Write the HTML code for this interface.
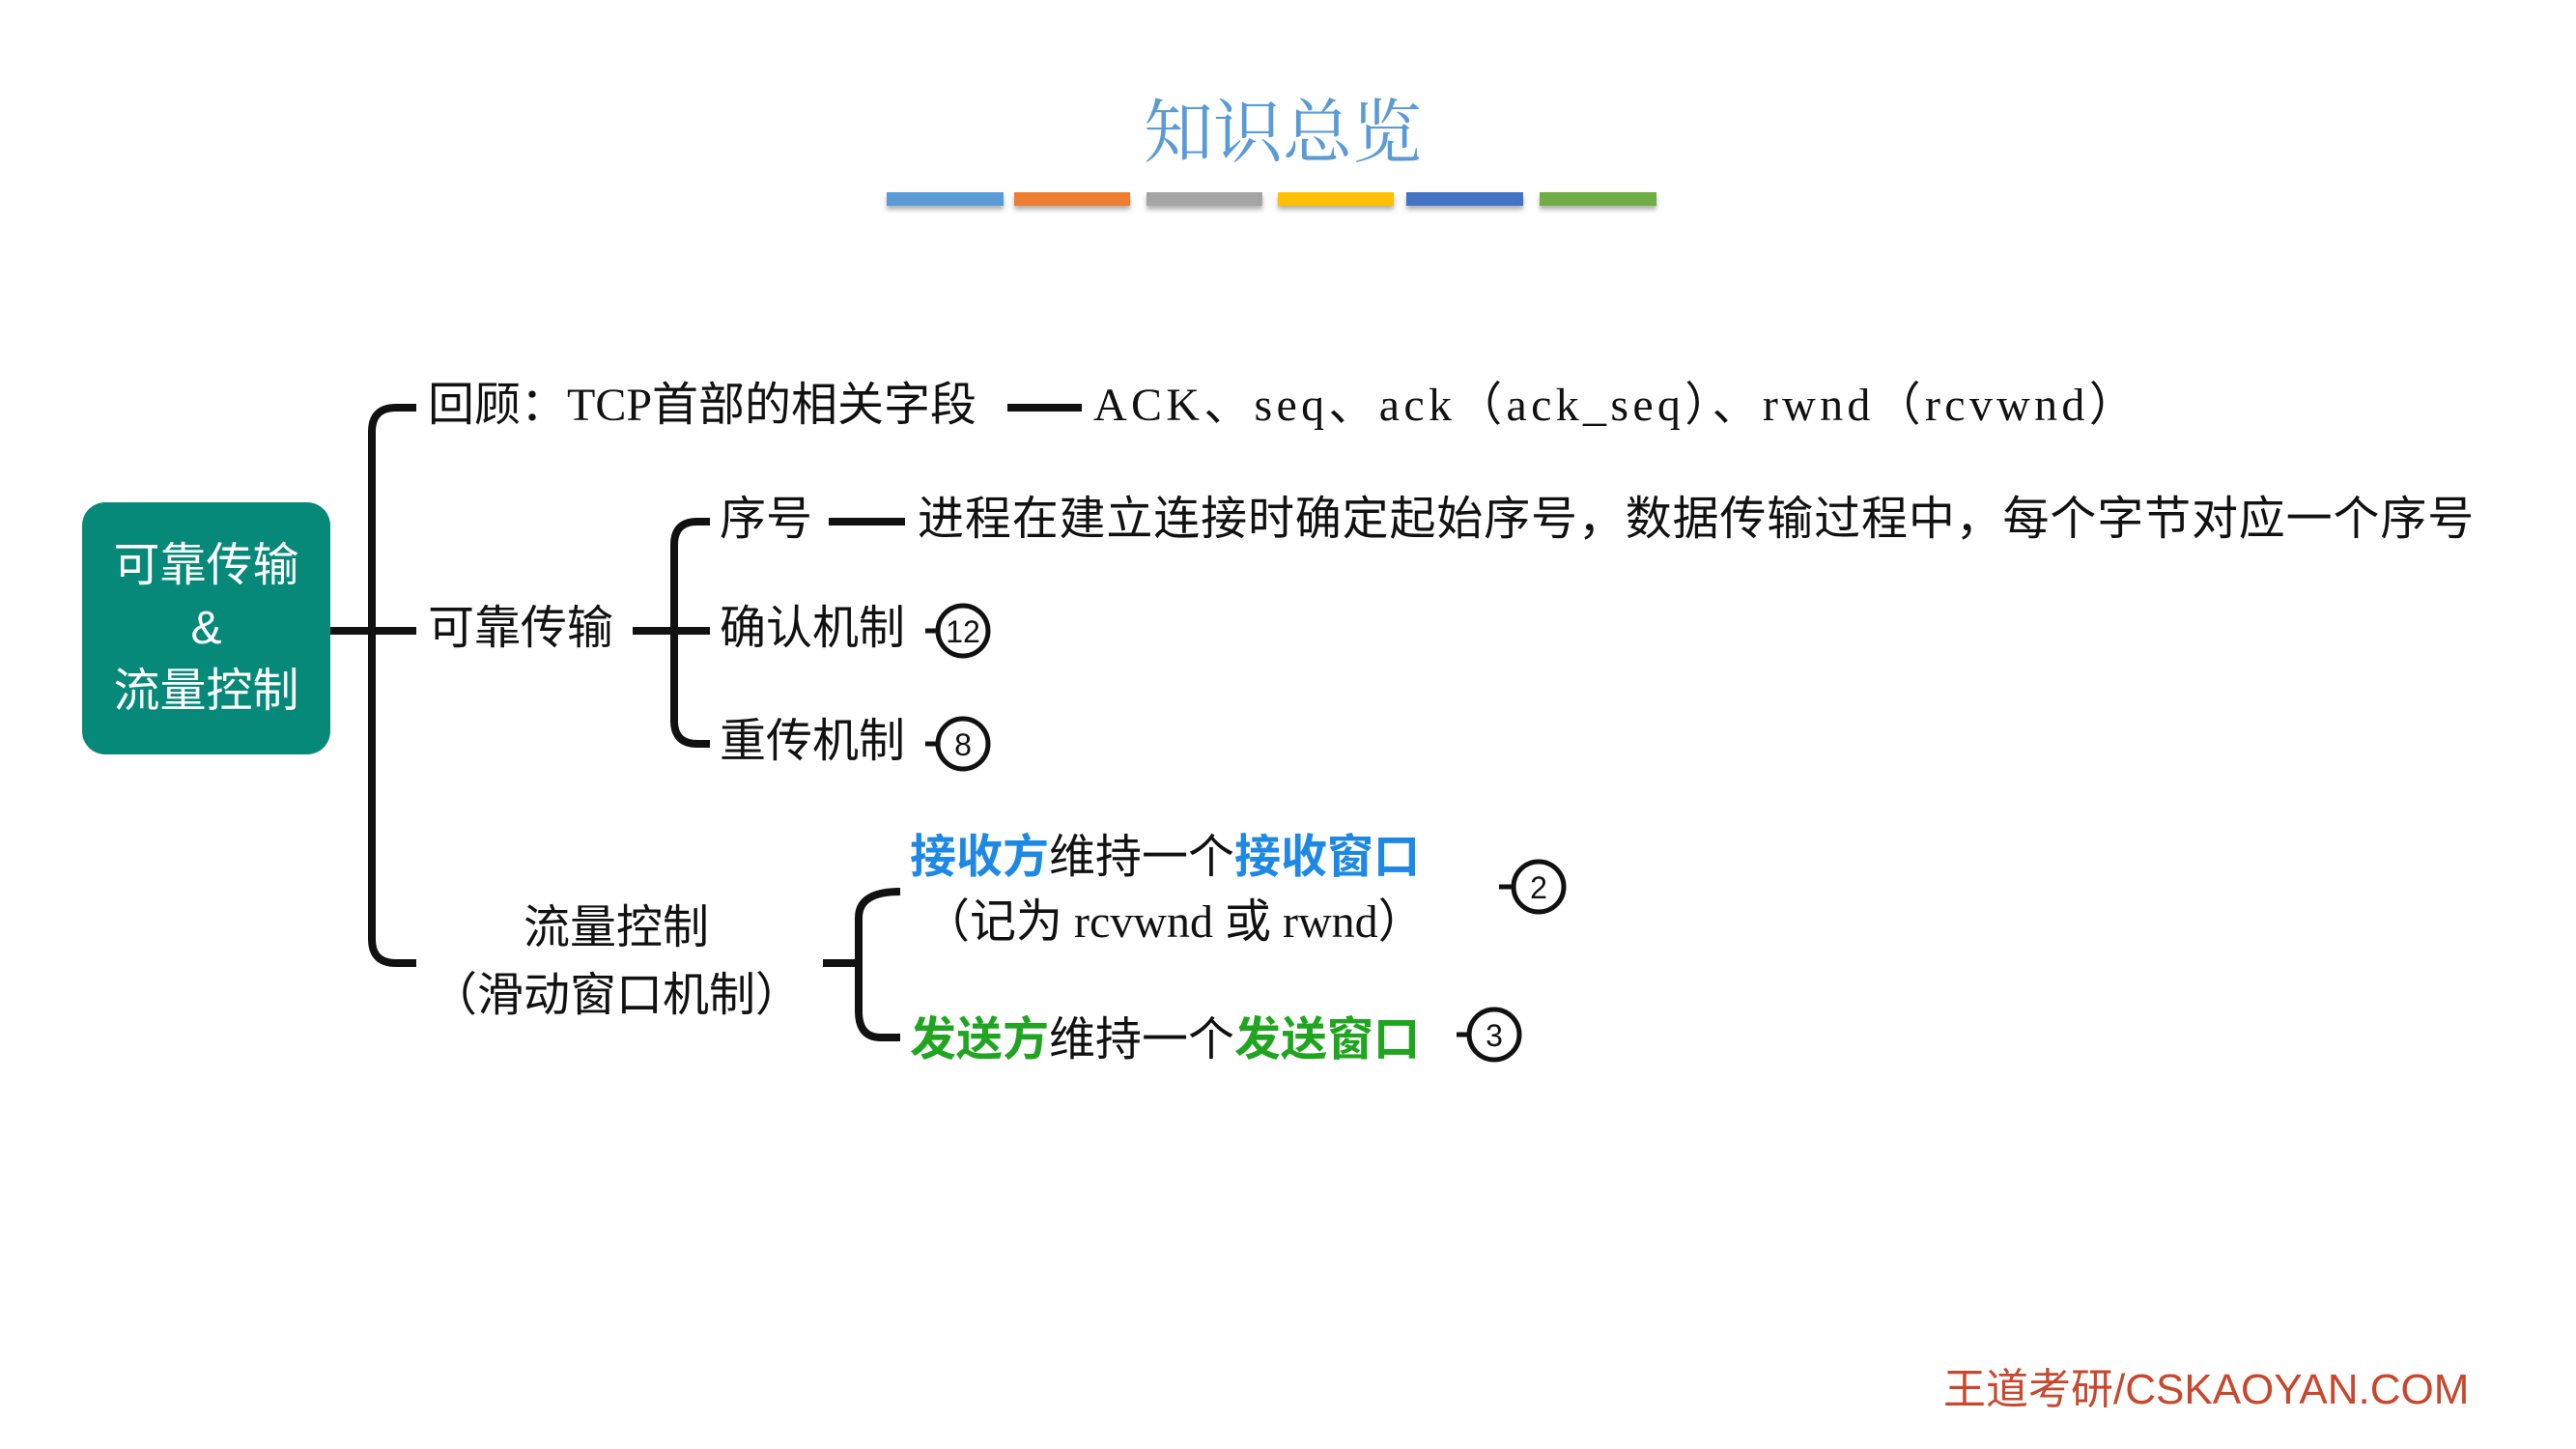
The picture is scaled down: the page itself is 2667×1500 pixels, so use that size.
<!DOCTYPE html>
<html><head><meta charset="utf-8">
<style>
html,body{margin:0;padding:0;background:#fff;}
#c{position:relative;width:2667px;height:1500px;overflow:hidden;background:#fff;font-family:"Liberation Serif","Noto Sans CJK SC",serif;color:#111;}
.t{position:absolute;white-space:nowrap;font-size:48px;line-height:60px;height:60px;}
.s{font-family:"Liberation Sans","Noto Sans CJK SC",sans-serif;}
.b{color:#1e88e5;font-weight:bold;font-family:"Noto Sans CJK SC",sans-serif;}
.g{color:#1fa51f;font-weight:bold;font-family:"Noto Sans CJK SC",sans-serif;}
.bar{position:absolute;top:199px;height:14px;box-shadow:0 4px 5px rgba(0,0,0,0.3);}
</style></head><body><div id="c">
<div class="t" style="left:0;width:2656px;text-align:center;top:90px;font-size:72px;line-height:82px;height:82px;color:#5b9bd5;font-family:'Noto Serif CJK SC',serif;">知识总览</div>
<div class="bar" style="left:918px;width:121px;background:#5b9bd5"></div>
<div class="bar" style="left:1050px;width:120px;background:#ed7d31"></div>
<div class="bar" style="left:1187px;width:120px;background:#a5a5a5"></div>
<div class="bar" style="left:1323px;width:120px;background:#ffc000"></div>
<div class="bar" style="left:1456px;width:121px;background:#4472c4"></div>
<div class="bar" style="left:1594px;width:121px;background:#70ad47"></div>

<div style="position:absolute;left:85px;top:520px;width:257px;height:261px;background:#07897a;border-radius:24px;"></div>
<div class="t s" style="left:85px;width:257px;text-align:center;top:556px;color:#fff;">可靠传输</div>
<div class="t s" style="left:85px;width:257px;text-align:center;top:621px;color:#fff;">&amp;</div>
<div class="t s" style="left:85px;width:257px;text-align:center;top:686px;color:#fff;">流量控制</div>

<svg style="position:absolute;left:0;top:0" width="2667" height="1500">
<g fill="none" stroke="#111" stroke-width="8">
<line x1="342" y1="653" x2="431" y2="653"/>
<path d="M431 422 H410 Q385 422 385 447 V972 Q385 997 410 997 H431"/>
<line x1="1043" y1="422" x2="1120" y2="422"/>
<line x1="655" y1="653" x2="735" y2="653"/>
<path d="M735 540 H722 Q698 540 698 564 V746 Q698 770 722 770 H735"/>
<line x1="858" y1="540" x2="937" y2="540"/>
<line x1="852" y1="997" x2="889" y2="997"/>
<path d="M932 923 Q889 923 889 950 V1047 Q889 1074 912 1074 H932"/>
</g>
<g fill="none" stroke="#111" stroke-width="5">
<line x1="958" y1="653" x2="970" y2="653"/><circle cx="997" cy="653" r="26"/>
<line x1="958" y1="770" x2="970" y2="770"/><circle cx="997" cy="770" r="26"/>
<line x1="1552" y1="918" x2="1566" y2="918"/><circle cx="1593" cy="918" r="26"/>
<line x1="1508" y1="1071" x2="1520" y2="1071"/><circle cx="1547" cy="1071" r="26"/>
</g>
<g font-family="Liberation Sans, sans-serif" font-size="32" text-anchor="middle" fill="#111">
<text x="997" y="665">12</text><text x="997" y="782">8</text>
<text x="1593" y="930">2</text><text x="1547" y="1083">3</text>
</g>
</svg>

<div class="t" style="left:443px;top:390px;">回顾：TCP首部的相关字段</div>
<div class="t" style="left:1132px;top:390px;letter-spacing:4.3px;">ACK、seq、ack（ack_seq）、rwnd（rcvwnd）</div>
<div class="t" style="left:443px;top:621px;">可靠传输</div>
<div class="t" style="left:745px;top:508px;">序号</div>
<div class="t" style="left:950px;top:508px;letter-spacing:0.85px;">进程在建立连接时确定起始序号，数据传输过程中，每个字节对应一个序号</div>
<div class="t" style="left:745px;top:621px;">确认机制</div>
<div class="t" style="left:745px;top:738px;">重传机制</div>
<div class="t" style="left:438px;width:400px;text-align:center;top:931px;">流量控制</div>
<div class="t" style="left:438px;width:400px;text-align:center;top:1001px;">（滑动窗口机制）</div>
<div class="t" style="left:942px;top:852px;"><span class="b">接收方</span>维持一个<span class="b">接收窗口</span></div>
<div class="t" style="left:956px;top:925px;">（记为 rcvwnd 或 rwnd）</div>
<div class="t" style="left:942px;top:1041px;"><span class="g">发送方</span>维持一个<span class="g">发送窗口</span></div>
<div class="t s" style="left:2012px;top:1414px;font-size:44px;line-height:50px;color:#c8472d;">王道考研/CSKAOYAN.COM</div>
</div></body></html>
